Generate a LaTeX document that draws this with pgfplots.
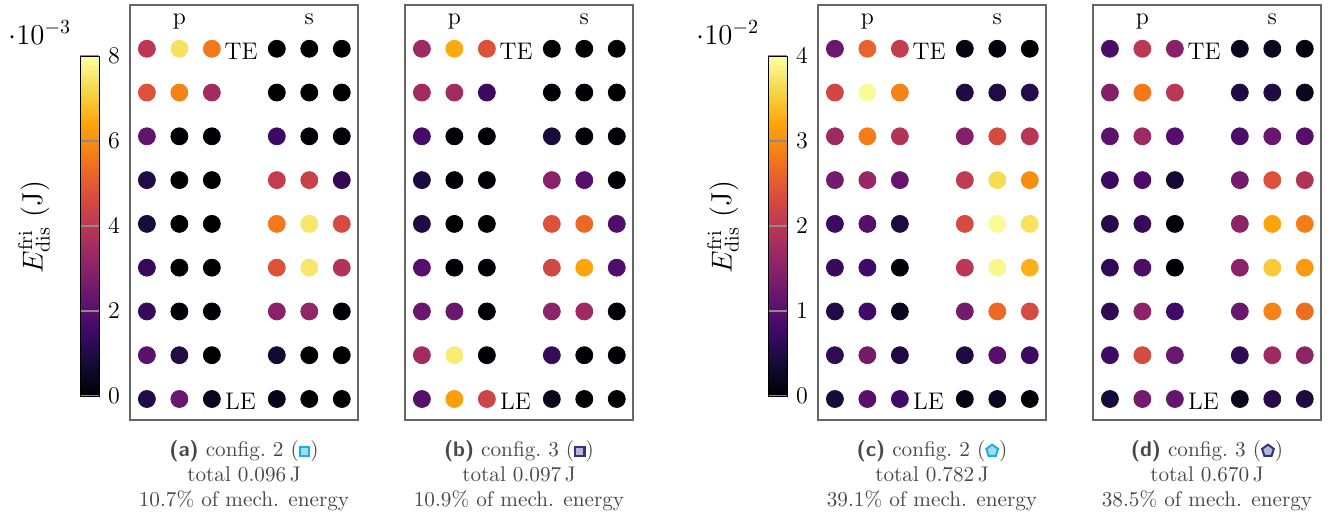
\documentclass[border=0pt]{standalone}
\usepackage{pgfplots}
\pgfplotsset{compat=1.18}
\usepackage{pgfplotstable}
\usetikzlibrary{calc}

\pgfplotsset{colormap={inferno}{rgb255=(0,0,4) rgb255=(22,11,57) rgb255=(66,10,104) rgb255=(106,23,110) rgb255=(147,38,103) rgb255=(188,55,84) rgb255=(221,81,58) rgb255=(243,120,25) rgb255=(252,165,10) rgb255=(246,215,70) rgb255=(252,255,164)}}

\definecolor{cfgcyan}{RGB}{25,176,226}
\definecolor{cfgcyanfill}{RGB}{160,220,240}
\definecolor{cfgnavy}{RGB}{43,53,132}
\definecolor{cfgnavyfill}{RGB}{180,182,216}
\definecolor{capgray}{RGB}{72,72,72}

\pgfplotstableread{
y c1 c2 c3 c5 c6 c7
9 4.0 7.4 5.6 0 0 0
8 4.8 5.8 3.5 0 0 0
7 2.2 0 0 1.5 0 0
6 1.0 0 0 4.2 4.3 1.3
5 0.8 0 0 5.6 7.5 4.6
4 1.35 0 0 4.8 7.5 3.8
3 1.4 0 0 3.0 3.2 0
2 2.1 1.0 0 0.7 0 0
1 1.0 2.4 0.4 0.3 0 0
}\tabA
\pgfplotstableread{
y c1 c2 c3 c5 c6 c7
9 3.4 6.5 4.8 0 0 0
8 3.5 3.5 1.45 0 0 0
7 1.7 0 0 0.8 0 0
6 0.9 0 0 3.0 2.0 0
5 1.0 0 0 4.8 5.3 1.85
4 2.0 0 0 4.5 6.4 1.85
3 2.4 2.4 0 3.1 3.4 0
2 3.5 7.6 0 1.35 0 0
1 2.0 6.3 4.4 0.4 0 0
}\tabB
\pgfplotstableread{
y c1 c2 c3 c5 c6 c7
9 1.2 2.6 2.1 0.12 0.05 0
8 2.25 3.95 2.9 0.48 0.5 0.55
7 1.7 2.85 1.9 1.45 2.3 1.95
6 1.3 1.65 1.15 2.05 3.65 3.0
5 0.75 1.0 0.48 2.3 3.95 3.7
4 0.7 0.8 0.03 2.0 3.9 3.3
3 0.5 0.8 0.2 1.3 2.65 2.3
2 0.65 1.3 0.48 0.48 1.0 0.75
1 0.4 1.0 0.8 0.12 0.2 0.03
}\tabC
\pgfplotstableread{
y c1 c2 c3 c5 c6 c7
9 0.9 2.0 1.5 0.2 0.2 0.05
8 1.45 2.8 2.0 0.48 0.48 0.2
7 1.05 1.7 1.0 0.9 1.2 1.0
6 0.75 0.9 0.35 1.3 2.4 1.9
5 0.55 0.7 0.03 1.55 3.2 2.85
4 0.65 0.9 0 1.5 3.5 3.1
3 0.65 1.55 0.8 1.2 2.9 2.7
2 0.8 2.3 1.2 0.65 1.7 1.55
1 0.4 1.3 1.15 0.2 0.55 0.48
}\tabD

\pgfplotsset{
  panel/.style={scale only axis, width=114pt, height=207.5pt,
    xmin=0.48, xmax=7.5, ymin=0.52, ymax=10,
    xtick=\empty, ytick=\empty, clip=false, anchor=south west,
    axis line style={black!60, line width=0.7pt}},
  dots/.style={scatter, only marks, mark=*, mark size=4.25pt,
    scatter/use mapped color={draw=mapped color, fill=mapped color},
    point meta=explicit},
  cbar/.style={colorbar, colorbar style={scale only axis,
    at={($(parent axis.south west)+(-24pt,12pt)$)}, anchor=south east,
    width=9.5pt, height=170pt, ytick={#1},
    yticklabel pos=right, ytick pos=right,
    tick align=inside, major tick length=9.5pt,
    major tick style={black!45, line width=0.8pt},
    yticklabel style={font=\large, xshift=1pt},
    axis line style={black, line width=0.5pt}}},
}

\newsavebox\mka \newsavebox\mkb \newsavebox\mkc \newsavebox\mkd

\newcommand{\panellabels}{%
  \node[anchor=base, font=\large] at (axis cs:2,9.55) {p};
  \node[anchor=base, font=\large] at (axis cs:6,9.55) {s};
  \node[anchor=base, font=\large] at (axis cs:3.9,8.75) {TE};
  \node[anchor=base, font=\large] at (axis cs:3.88,0.75) {LE};
}

\begin{document}
\sbox\mka{\tikz[baseline=0pt]{\draw[line width=1.1pt, draw=cfgcyan, fill=cfgcyanfill] (0,0) rectangle (4.6pt,4.6pt);}}%
\sbox\mkb{\tikz[baseline=0pt]{\draw[line width=1.1pt, draw=cfgnavy, fill=cfgnavyfill] (0,0) rectangle (4.6pt,4.6pt);}}%
\sbox\mkc{\tikz[baseline=0pt]{\draw[line width=1pt, draw=cfgcyan, fill=cfgcyanfill, shift={(0,2.6pt)}] (90:3.1pt)--(162:3.1pt)--(234:3.1pt)--(306:3.1pt)--(18:3.1pt)--cycle;}}%
\sbox\mkd{\tikz[baseline=0pt]{\draw[line width=1pt, draw=cfgnavy, fill=cfgnavyfill, shift={(0,2.6pt)}] (90:3.1pt)--(162:3.1pt)--(234:3.1pt)--(306:3.1pt)--(18:3.1pt)--cycle;}}%
\begin{tikzpicture}
\path[use as bounding box] (0,0) rectangle (668pt,258pt);

% panel a
\begin{axis}[panel, at={(65pt,48pt)}, point meta min=0, point meta max=8, cbar={0,2,4,6,8}]
\pgfplotsinvokeforeach{1,2,3,5,6,7}{\addplot[dots] table[x expr=#1, y=y, meta=c#1] {\tabA};}
\panellabels
\end{axis}

% panel b
\begin{axis}[panel, at={(202.5pt,48pt)}, point meta min=0, point meta max=8]
\pgfplotsinvokeforeach{1,2,3,5,6,7}{\addplot[dots] table[x expr=#1, y=y, meta=c#1] {\tabB};}
\panellabels
\end{axis}

% panel c
\begin{axis}[panel, at={(409pt,48pt)}, point meta min=0, point meta max=4, cbar={0,1,2,3,4}]
\pgfplotsinvokeforeach{1,2,3,5,6,7}{\addplot[dots] table[x expr=#1, y=y, meta=c#1] {\tabC};}
\panellabels
\end{axis}

% panel d
\begin{axis}[panel, at={(546.5pt,48pt)}, point meta min=0, point meta max=4]
\pgfplotsinvokeforeach{1,2,3,5,6,7}{\addplot[dots] table[x expr=#1, y=y, meta=c#1] {\tabD};}
\panellabels
\end{axis}

% colorbar labels
\node[rotate=90, font=\Large] at (17pt,144.5pt) {$E^{\mathrm{fri}}_{\mathrm{dis}}$ (J)};
\node[anchor=base west, font=\Large, inner sep=0pt] at (4pt,236pt) {$\cdot 10^{-3}$};
\node[rotate=90, font=\Large] at (361.5pt,144.5pt) {$E^{\mathrm{fri}}_{\mathrm{dis}}$ (J)};
\node[anchor=base west, font=\Large, inner sep=0pt] at (348pt,236pt) {$\cdot 10^{-2}$};

% captions
\begin{scope}[every node/.style={anchor=base, inner sep=0pt, text=capgray, font=\fontsize{10.6}{12.7}\selectfont}]
\node at (122pt,30pt) {\textsf{\textbf{(a)}} config.~2 (\usebox\mka)};
\node at (122pt,17.5pt) {total 0.096\,J};
\node at (122pt,5pt) {10.7\% of mech. energy};
\node at (259.5pt,30pt) {\textsf{\textbf{(b)}} config.~3 (\usebox\mkb)};
\node at (259.5pt,17.5pt) {total 0.097\,J};
\node at (259.5pt,5pt) {10.9\% of mech. energy};
\node at (466pt,30pt) {\textsf{\textbf{(c)}} config.~2 (\usebox\mkc)};
\node at (466pt,17.5pt) {total 0.782\,J};
\node at (466pt,5pt) {39.1\% of mech. energy};
\node at (603.5pt,30pt) {\textsf{\textbf{(d)}} config.~3 (\usebox\mkd)};
\node at (603.5pt,17.5pt) {total 0.670\,J};
\node at (603.5pt,5pt) {38.5\% of mech. energy};
\end{scope}
\end{tikzpicture}
\end{document}
